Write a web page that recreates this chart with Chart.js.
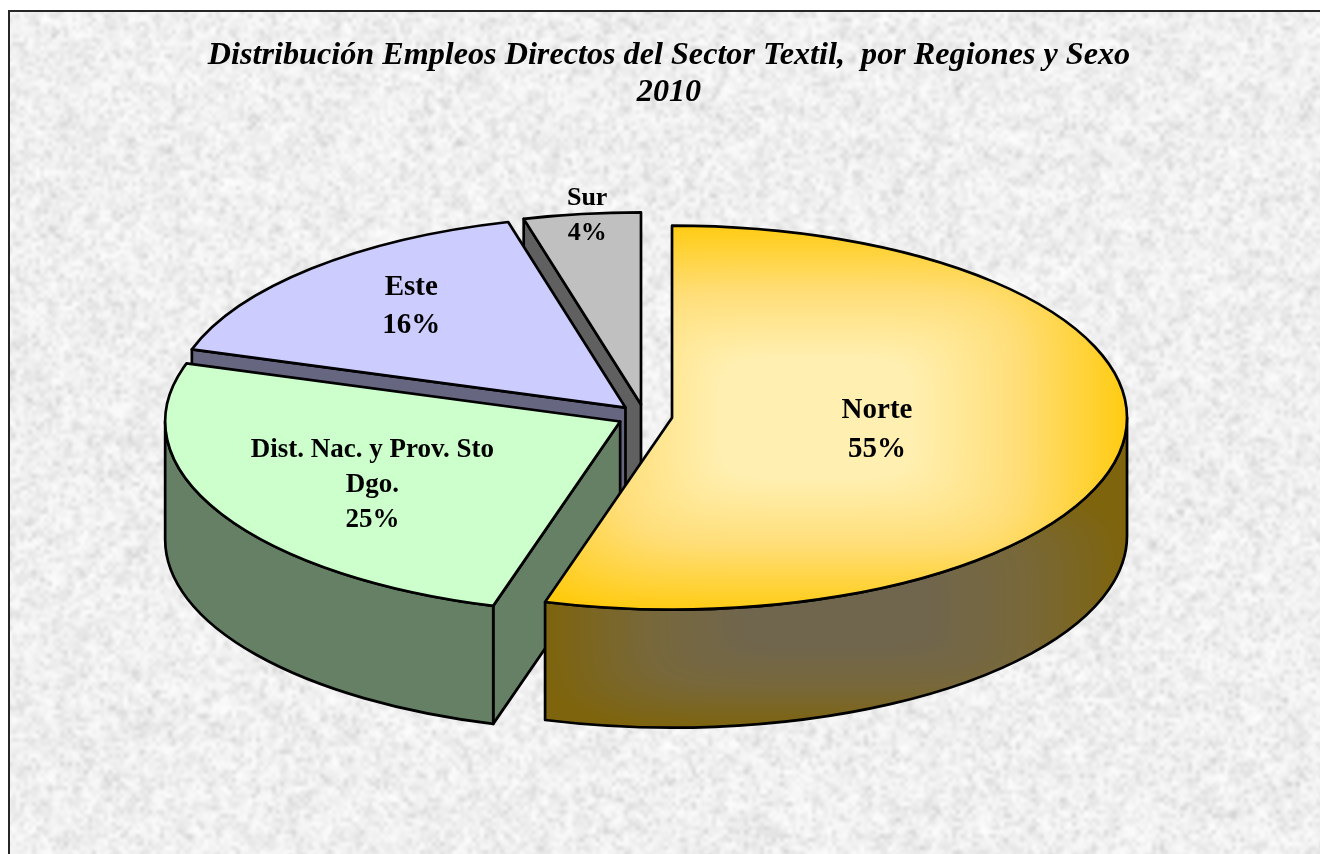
<!DOCTYPE html>
<html>
<head>
<meta charset="utf-8">
<style>html,body{margin:0;padding:0;background:#fff;overflow:hidden}canvas{display:block}#w{position:relative;width:1320px;height:854px}</style>
<script src="https://cdn.jsdelivr.net/npm/chart.js@4/dist/chart.umd.js"></script>
</head>
<body>
<div id="w"><canvas id="c" width="1320" height="854"></canvas></div>
<script>
const categories = ['Norte', 'Dist. Nac. y Prov. Sto Dgo.', 'Este', 'Sur'];
const values = [54.5, 25.4, 15.95, 4.15];
const titleLines = ['Distribución Empleos Directos del Sector Textil,  por Regiones y Sexo', '2010'];

const topColors = ['#FFCC11', '#CCFFCC', '#CCCCFF', '#C0C0C0'];
const wallColors = ['#7D640C', '#668066', '#666680', '#606060'];
const labelSizes = [29, 27, 29, 26];
const labelLineHeights = [39, 35, 38, 35];
const labelFractions = [[0.455, 0.44], [0.617, 0.70], [0.682, 0.728], [0.91, 0.99]];

const view = {cx: 644.6, cy: 416, radius: 455, squash: 0.422, depth: 118, explode: 27.7, line: 2.7};
const serif = "'Liberation Serif','Times New Roman',serif";

/* Rectangular "from centre" shading, as a repeating texture that a matrix stretches onto the slice */
function makeShade(ctx, inner, mid, outer) {
  const S = 1024, r = 256;
  const c = document.createElement('canvas');
  c.width = c.height = S;
  const g = c.getContext('2d');
  const im = g.createImageData(S, S);
  const mix = (a, b, t) => a + (b - a) * t;
  for (let y = 0; y < S; y++) for (let x = 0; x < S; x++) {
    const dx = Math.abs(x - S / 2) / r, dy = Math.abs(y - S / 2) / r;
    const t = Math.min(1, Math.pow(Math.pow(dx, 5) + Math.pow(dy, 5), 0.2));
    const col = [0, 1, 2].map(n => {
      if (t < 0.3) return inner[n];
      if (t < 0.65) return mix(inner[n], mid[n], (t - 0.3) / 0.35);
      return mix(mid[n], outer[n], (t - 0.65) / 0.35);
    });
    const i = (y * S + x) * 4;
    im.data[i] = col[0]; im.data[i + 1] = col[1]; im.data[i + 2] = col[2]; im.data[i + 3] = 255;
  }
  g.putImageData(im, 0, 0);
  return ctx.createPattern(c, 'repeat');
}

function placeShade(pattern, x, y, rx, ry) {
  const sx = rx / 256, sy = ry / 256;
  pattern.setTransform(new DOMMatrix([sx, 0, 0, sy, x - 512 * sx, y - 512 * sy]));
}

/* Granite-like paper: deterministic hash noise at two grain sizes */
function makeGrain(w, h) {
  const hash = (x, y) => { const s = Math.sin(x * 127.1 + y * 311.7) * 43758.5453; return s - Math.floor(s); };
  const layer = (cell, lo, span, pow, salt) => {
    const cw = Math.ceil(w / cell) + 2, ch = Math.ceil(h / cell) + 2;
    const c = document.createElement('canvas');
    c.width = cw; c.height = ch;
    const g = c.getContext('2d');
    const im = g.createImageData(cw, ch);
    for (let y = 0; y < ch; y++) for (let x = 0; x < cw; x++) {
      const v = lo + span * Math.pow(hash(x + salt, y - salt), pow);
      const i = (y * cw + x) * 4;
      im.data[i] = im.data[i + 1] = im.data[i + 2] = v;
      im.data[i + 3] = 255;
    }
    g.putImageData(im, 0, 0);
    return c;
  };
  const out = document.createElement('canvas');
  out.width = w; out.height = h;
  const g = out.getContext('2d');
  g.imageSmoothingEnabled = true;
  g.imageSmoothingQuality = 'high';
  g.drawImage(layer(4, 192, 62, 0.35, 3), 0, 0, Math.ceil(w / 4) * 4 + 8, Math.ceil(h / 4) * 4 + 8);
  g.globalAlpha = 0.45;
  g.drawImage(layer(8, 205, 48, 0.4, 17), 0, 0, Math.ceil(w / 8) * 8 + 16, Math.ceil(h / 8) * 8 + 16);
  g.globalAlpha = 1;
  return out;
}

const cvs = document.getElementById('c');
const glow = makeShade(cvs.getContext('2d'), [255, 240, 178], [255, 222, 120], [255, 203, 16]);
const rimShade = makeShade(cvs.getContext('2d'), [112, 102, 78], [120, 104, 58], [126, 100, 12]);
let grain = null;

function slicePlace(arc) {
  const mid = (arc.startAngle + arc.endAngle) / 2;
  const ox = Math.cos(mid) * view.explode;
  const oy = Math.sin(mid) * view.explode;
  return {mid, x: view.cx + ox, y: view.cy + oy * view.squash, ox, oy};
}

function wallPaths(ctx, arc, p, i) {
  const R = view.radius, k = view.squash, D = view.depth;
  const a0 = arc.startAngle, a1 = arc.endAngle;
  ctx.lineWidth = view.line;
  ctx.strokeStyle = '#000';
  ctx.lineJoin = 'round';
  /* flat cut faces that look toward the viewer */
  [[a0, -Math.cos(a0)], [a1, Math.cos(a1)]].forEach(([a, facing]) => {
    if (facing <= 1e-6) return;
    const ex = p.x + R * Math.cos(a), ey = p.y + R * k * Math.sin(a);
    ctx.beginPath();
    ctx.moveTo(p.x, p.y);
    ctx.lineTo(ex, ey);
    ctx.lineTo(ex, ey + D);
    ctx.lineTo(p.x, p.y + D);
    ctx.closePath();
    ctx.fillStyle = wallColors[i];
    ctx.fill();
    ctx.stroke();
  });
  /* curved rim: only the part on the front half of the ellipse */
  let s = a0, e = a1;
  const TAU = Math.PI * 2;
  while (e > TAU) { s -= TAU; e -= TAU; }
  s = Math.max(s, 0); e = Math.min(e, Math.PI);
  if (e <= s) return;
  ctx.beginPath();
  ctx.ellipse(p.x, p.y, R, R * k, 0, s, e, false);
  ctx.lineTo(p.x + R * Math.cos(e), p.y + R * k * Math.sin(e) + D);
  ctx.ellipse(p.x, p.y + D, R, R * k, 0, e, s, true);
  ctx.closePath();
  if (i === 0) {
    placeShade(rimShade, 835, 608, 292, 122);
    ctx.fillStyle = rimShade;
  } else {
    ctx.fillStyle = wallColors[i];
  }
  ctx.fill();
  ctx.stroke();
}

const pie3d = {
  id: 'pie3d',
  beforeDraw(chart) {
    const ctx = chart.ctx;
    ctx.save();
    ctx.fillStyle = '#fff';
    ctx.fillRect(0, 0, chart.width, chart.height);
    if (!grain) grain = makeGrain(chart.width - 8, chart.height - 10);
    ctx.drawImage(grain, 8, 10);
    ctx.fillStyle = '#262626';
    ctx.fillRect(8, 10, chart.width - 8, 2);
    ctx.fillRect(8, 10, 2, chart.height - 10);
    ctx.restore();
  },
  beforeDatasetDraw(chart, args) {
    const ctx = chart.ctx;
    const arcs = args.meta.data;
    const R = view.radius, k = view.squash;
    for (let i = arcs.length - 1; i >= 0; i--) {
      const arc = arcs[i];
      const p = slicePlace(arc);
      ctx.save();
      wallPaths(ctx, arc, p, i);
      ctx.restore();

      if (i === 0) {
        /* shade centre and reach, mapped into slice-local coordinates */
        placeShade(glow, arc.x + (815 - p.x), arc.y + (418 - p.y) / k, 312, 195 / k);
      }
      ctx.save();
      ctx.translate(p.x, p.y);
      ctx.scale(1, k);
      ctx.translate(-arc.x, -arc.y);
      arc.draw(ctx);
      ctx.restore();

      ctx.save();
      ctx.beginPath();
      ctx.moveTo(p.x, p.y);
      ctx.ellipse(p.x, p.y, R, R * k, 0, arc.startAngle, arc.endAngle, false);
      ctx.closePath();
      ctx.lineWidth = view.line;
      ctx.strokeStyle = '#000';
      ctx.lineJoin = 'round';
      ctx.stroke();
      ctx.restore();
    }
    return false;
  },
  afterDatasetsDraw(chart) {
    const ctx = chart.ctx;
    const arcs = chart.getDatasetMeta(0).data;
    ctx.save();
    ctx.fillStyle = '#000';
    ctx.textAlign = 'center';
    ctx.textBaseline = 'middle';
    arcs.forEach((arc, i) => {
      const p = slicePlace(arc);
      const [fx, fy] = labelFractions[i];
      const size = labelSizes[i];
      ctx.font = 'bold ' + size + 'px ' + serif;
      const lines = [];
      let cur = '';
      categories[i].split(' ').forEach(w => {
        const t = cur ? cur + ' ' + w : w;
        if (ctx.measureText(t).width > 260 && cur) { lines.push(cur); cur = w; } else cur = t;
      });
      lines.push(cur);
      lines.push(Math.round(values[i]) + '%');
      const x = p.x + Math.cos(p.mid) * view.radius * fx;
      const y = p.y + Math.sin(p.mid) * view.radius * view.squash * fy;
      const lh = labelLineHeights[i];
      lines.forEach((l, j) => ctx.fillText(l, x, y + (j - (lines.length - 1) / 2) * lh));
    });
    ctx.restore();
  }
};

new Chart(cvs, {
  type: 'pie',
  data: {
    labels: categories,
    datasets: [{
      data: values,
      backgroundColor: [glow, topColors[1], topColors[2], topColors[3]],
      borderWidth: 0,
      radius: view.radius
    }]
  },
  options: {
    responsive: false,
    animation: false,
    layout: {padding: {left: 18, top: 37}},
    events: [],
    plugins: {
      legend: {display: false},
      tooltip: {enabled: false},
      title: {
        display: true,
        text: titleLines,
        color: '#000',
        fullSize: false,
        padding: 0,
        font: {family: serif, size: 32.2, weight: 'bold', style: 'italic', lineHeight: 1.16}
      }
    }
  },
  plugins: [pie3d]
});
</script>
</body>
</html>
